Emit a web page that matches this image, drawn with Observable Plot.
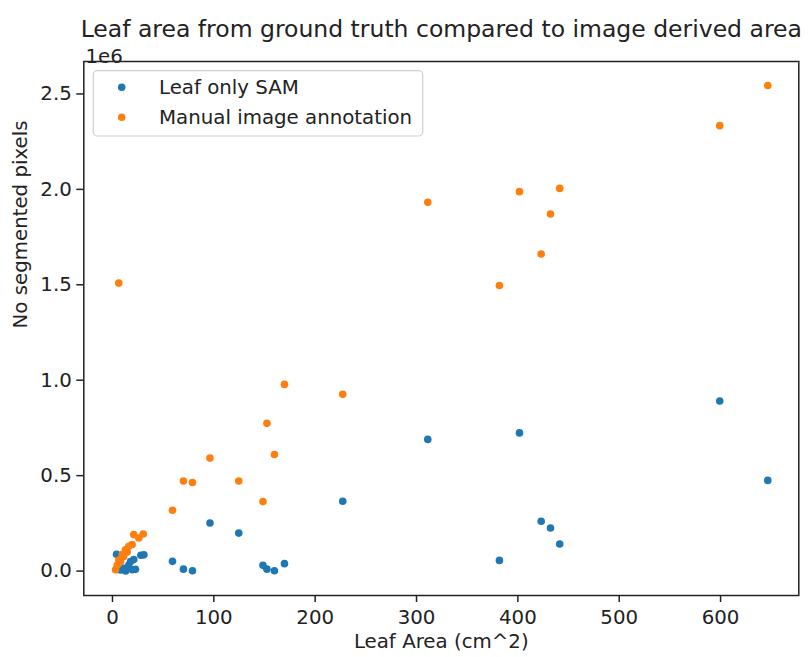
<!DOCTYPE html>
<html><head><meta charset="utf-8">
<script src="https://cdn.jsdelivr.net/npm/d3@7"></script>
<script src="https://cdn.jsdelivr.net/npm/@observablehq/plot@0.6"></script>
<style>
body{margin:0;background:#fff}
#chart{position:relative;width:810px;height:657px}
</style>
</head><body><div id="chart"></div>
<script>
// Leaf only SAM
const samX = [646.6, 599.2, 441.3, 432.2, 423, 401.6, 381.8, 311.1, 227.2, 169.7, 159.8, 152.4, 148.5, 124.6, 96.2, 78.9, 70, 59.2,
              4, 4.6, 8, 11.5, 13, 16, 17.8, 19.5, 21, 22.7, 28, 31];
const samY = [475000, 891000, 142000, 226000, 261000, 724000, 56000, 690000, 366000, 39000, 2000, 10000, 30000, 199000, 252000, 2000, 10000, 51000,
              88000, 8000, 6000, 14000, 1000, 30000, 50000, 7000, 60000, 9000, 83000, 85000];
// Manual image annotation
const manX = [646.6, 599.2, 441.3, 401.6, 311.1, 432.2, 423, 381.8, 169.7, 227.2, 152.4, 159.8, 96.2, 70, 78.9, 124.6, 148.5, 59.2,
              6.2, 3, 4.6, 6.2, 8, 9.6, 11.1, 12.8, 14.5, 16.1, 19.4, 21, 26, 30.3];
const manY = [2544000, 2334000, 2005000, 1988000, 1932000, 1871000, 1661000, 1496000, 978000, 926000, 774000, 611000, 592000, 472000, 464000, 472000, 364000, 319000,
              1509000, 7000, 30000, 58000, 50000, 86000, 77000, 112000, 100000, 130000, 139000, 191000, 173000, 194000];

const seriesNames = ["Leaf only SAM", "Manual image annotation"];
const seriesColors = ["#1f77b4", "#ff7f0e"];
const xTicks = [0, 100, 200, 300, 400, 500, 600];
const yTicks = [0, 500000, 1000000, 1500000, 2000000, 2500000];
const titleText = "Leaf area from ground truth compared to image derived area";
const xLabel = "Leaf Area (cm^2)";
const yLabel = "No segmented pixels";
const offsetText = "1e6";

const data = [
  ...samX.map((x, i) => ({x, y: samY[i], s: seriesNames[0]})),
  ...manX.map((x, i) => ({x, y: manY[i], s: seriesNames[1]}))
];

const FS = 19.8;
const plot = Plot.plot({
  width: 810, height: 657,
  marginLeft: 83.3, marginRight: 11.7, marginTop: 61, marginBottom: 62,
  style: {fontFamily: "DejaVu Sans", fontSize: FS + "px", color: "#222", background: "#fff", overflow: "visible"},
  x: {domain: [-28.3, 677.2], axis: null},
  y: {domain: [-128000, 2670000], axis: null},
  color: {domain: seriesNames, range: seriesColors},
  marks: [
    Plot.dot(data, {x: "x", y: "y", fill: "s", r: 3.8}),
    Plot.frame({stroke: "#222", strokeWidth: 1.5}),
    Plot.axisX({ticks: xTicks, tickSize: 7, tickPadding: 7, strokeWidth: 1.5, label: null, fontSize: FS}),
    Plot.axisY({ticks: yTicks, tickSize: 7, tickPadding: 5, strokeWidth: 1.5, label: null, fontSize: FS,
                tickFormat: d => (d / 1e6).toFixed(1)}),
    Plot.text([titleText], {text: d => d, frameAnchor: "top", dy: -41.5, fontSize: 23.5, fill: "#222"}),
    Plot.text([offsetText], {text: d => d, frameAnchor: "top-left", textAnchor: "start", dx: 1.7, dy: -12.5, fontSize: FS, fill: "#222"}),
    Plot.text([xLabel], {text: d => d, frameAnchor: "bottom", dy: 52, fontSize: FS, fill: "#222"}),
    Plot.text([yLabel], {text: d => d, frameAnchor: "left", dx: -63.3, rotate: -90, fontSize: FS, fill: "#222"})
  ]
});
document.getElementById("chart").appendChild(plot);

// legend
const svg = d3.select(plot);
const lg = svg.append("g").attr("font-family", "DejaVu Sans").attr("font-size", FS).attr("text-anchor", "start");
lg.append("rect").attr("x", 93.3).attr("y", 70.7).attr("width", 329.4).attr("height", 65.3)
  .attr("rx", 4).attr("fill", "#fff").attr("fill-opacity", 0.8).attr("stroke", "#d0d0d0").attr("stroke-width", 1.2);
seriesNames.forEach((name, i) => {
  const cy = 87.3 + i * 30;
  lg.append("circle").attr("cx", 121.7).attr("cy", cy).attr("r", 3.8).attr("fill", seriesColors[i]);
  lg.append("text").attr("x", 159).attr("y", cy).attr("dy", "0.35em").attr("text-anchor", "start").attr("fill", "#222").text(name);
});
</script>
</body></html>
